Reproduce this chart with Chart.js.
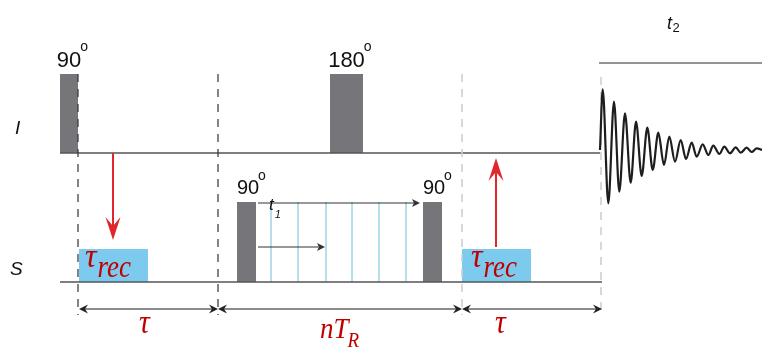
<!DOCTYPE html>
<html><head><meta charset="utf-8">
<script src="https://cdn.jsdelivr.net/npm/chart.js@4.4.0/dist/chart.umd.min.js"></script>
<style>html,body{margin:0;padding:0;background:#fff;overflow:hidden}#wrap{width:762px;height:348px;position:relative}</style>
</head><body><div id="wrap"><canvas id="c"></canvas></div>
<script>
// ---------------- data (time axis = x, row level = y) ----------------
const channelNames  = ['I', 'S'];
const channelLevels = [153, 282];
const channelStart  = [60, 60];
const channelEnd    = [600, 602];
const channelLabelX = [15, 10];
const channelLabelY = [134, 275];

const pulseChannel = [0, 0, 1, 1];
const pulseStart   = [60, 330, 237, 423];
const pulseEnd     = [78, 363, 256, 442];
const pulseTop     = [74, 74, 202, 202];
const pulseAngle   = ['90', '180', '90', '90'];

const boundaryTimes  = [78, 218, 462, 601];
const boundaryTop    = [74, 74, 74, 77];
const boundaryBottom = [315, 315, 315, 314];
const boundaryDark   = [true, true, false, false];

const periodStart   = [79, 218, 462];
const periodEnd     = [218, 462, 602];
const periodLevel   = 309;
const periodSymbol  = ['τ', 'nT', 'τ'];
const periodSub     = ['', 'R', ''];
const periodLabelX  = [139, 320, 495];
const periodLabelY  = [333, 338, 333];

const recStart  = [79, 462];
const recEnd    = [148, 531];
const recTop    = 249;
const recLabelX = [85, 471];

const transferX    = [113, 496];
const transferFrom = [153, 247];
const transferTo   = [240, 158];

const rotorSyncTimes = [271, 298, 326, 352, 379, 406];
const t1ArrowStart = [258, 258];
const t1ArrowEnd   = [420, 325];
const t1ArrowLevel = [203, 247];

const acqStart = 599, acqEnd = 762, acqLevel = 63;

const fidTimes  = [600, 602.7, 608.3, 614, 619.3, 625, 630.7, 636, 641.7, 647.3, 652.7, 658.3, 664, 669.3, 675, 680.7, 686, 691.7, 696.7, 702.7, 708.3, 713.3, 719.3, 724.3, 730, 735.7, 740.7, 746.7, 751.7, 756.7, 762];
const fidValues = [150, 89.3, 203.3, 101.7, 191.7, 113.3, 182.7, 121.7, 176, 127.7, 170, 132.7, 165, 136.7, 161.7, 140, 159, 142.7, 156.7, 144.3, 155, 145.7, 154, 146.7, 153.3, 147.3, 152.7, 147.7, 152, 148.3, 150];

// ---------------- styles ----------------
const C_LINE = '#555558', C_PULSE = '#76767a', C_BOX = '#7ccaee', C_SYNC = '#aadbe8';
const C_RED_ARROW = '#e2262b', C_RED_TEXT = '#c00000';

function pts(xs, ys) { return xs.map((x, i) => ({x, y: ys[i]})); }
function lineDs(data, color, width, extra) {
  return Object.assign({data, borderColor: color, borderWidth: width, fill: false, pointRadius: 0, tension: 0, order: 5}, extra || {});
}
const datasets = [];

// boxes and pulses (filled down to row level)
recStart.forEach((s, i) => datasets.push(lineDs(pts([s, recEnd[i]], [recTop, recTop]), 'rgba(0,0,0,0)', 0,
  {fill: {value: channelLevels[1]}, backgroundColor: C_BOX, order: 20})));
pulseStart.forEach((s, i) => datasets.push(lineDs(pts([s, pulseEnd[i]], [pulseTop[i], pulseTop[i]]), 'rgba(0,0,0,0)', 0,
  {fill: {value: channelLevels[pulseChannel[i]]}, backgroundColor: C_PULSE, order: 18})));
// rotor-sync lines
rotorSyncTimes.forEach(t => datasets.push(lineDs(pts([t, t], [pulseTop[2], channelLevels[1]]), C_SYNC, 1, {order: 19})));
// channel baselines
channelLevels.forEach((lv, i) => datasets.push(lineDs(pts([channelStart[i], channelEnd[i]], [lv, lv]), C_LINE, 1.5, {order: 10})));
// acquisition line
datasets.push(lineDs(pts([acqStart, acqEnd], [acqLevel, acqLevel]), '#707070', 1.5, {order: 10}));
// boundaries
boundaryTimes.forEach((t, i) => datasets.push(lineDs(pts([t, t], [boundaryTop[i], boundaryBottom[i]]),
  boundaryDark[i] ? '#333' : '#cfcfcf', boundaryDark[i] ? 1.2 : 1.6, {borderDash: [8, 7], order: 3})));
// period dimension lines
periodStart.forEach((s, i) => datasets.push(lineDs(pts([s + 4, periodEnd[i] - 4], [periodLevel, periodLevel]), '#666', 1.5, {order: 6})));
// transfer arrows (red)
transferX.forEach((x, i) => {
  const dir = transferTo[i] > transferFrom[i] ? -1 : 1;
  datasets.push(lineDs(pts([x, x], [transferFrom[i], transferTo[i] + dir * 12]), C_RED_ARROW, 2, {order: 4}));
});
// t1 arrows
t1ArrowStart.forEach((s, i) => datasets.push(lineDs(pts([s, t1ArrowEnd[i] - 4], [t1ArrowLevel[i], t1ArrowLevel[i]]), '#333', 1.2, {order: 4})));
// FID
datasets.push(lineDs(pts(fidTimes, fidValues), '#1e1e1e', 2.2, {cubicInterpolationMode: 'monotone', order: 2}));

// ---------------- text / arrowhead plugin ----------------
const decor = {
  id: 'decor',
  afterDatasetsDraw(chart) {
    const ctx = chart.ctx, X = chart.scales.x, Y = chart.scales.y;
    const px = v => X.getPixelForValue(v), py = v => Y.getPixelForValue(v);
    function head(tx, ty, dx, dy, len, hw, notch, color) {
      const x = px(tx), y = py(ty);
      const nx = -dy, ny = dx;
      ctx.beginPath();
      ctx.moveTo(x, y);
      ctx.lineTo(x - dx * len + nx * hw, y - dy * len + ny * hw);
      ctx.lineTo(x - dx * (len - notch), y - dy * (len - notch));
      ctx.lineTo(x - dx * len - nx * hw, y - dy * len - ny * hw);
      ctx.closePath();
      ctx.fillStyle = color; ctx.fill();
    }
    function txt(s, x, y, font, color, align, sy) {
      ctx.save();
      ctx.font = font; ctx.fillStyle = color; ctx.textAlign = align || 'left'; ctx.textBaseline = 'alphabetic';
      ctx.translate(px(x), py(y)); ctx.scale(1, sy || 1);
      ctx.fillText(s, 0, 0);
      const w = ctx.measureText(s).width;
      ctx.restore();
      return w;
    }
    // red arrowheads
    transferX.forEach((x, i) => head(x, transferTo[i], 0, transferTo[i] > transferFrom[i] ? 1 : -1, 23, 7.5, 9, C_RED_ARROW));
    // period arrowheads
    periodStart.forEach((s, i) => {
      head(s, periodLevel, -1, 0, 9, 4.5, 3, '#222');
      head(periodEnd[i], periodLevel, 1, 0, 9, 4.5, 3, '#222');
    });
    // t1 arrowheads
    t1ArrowEnd.forEach((e, i) => head(e, t1ArrowLevel[i], 1, 0, 8, 4, 2, '#333'));

    // pulse labels
    pulseAngle.forEach((a, i) => {
      const big = pulseChannel[i] === 0 ? 22 : 20;
      const cx = (pulseStart[i] + pulseEnd[i]) / 2 + (pulseChannel[i] === 0 ? 0 : 1.5);
      const by = pulseTop[i] - (pulseChannel[i] === 0 ? 7.5 : 8);
      const w = txt(a, cx, by, big + 'px "Liberation Sans", Arial, sans-serif', '#111', 'center');
      txt('o', cx + w / 2 - 1, by - big * 0.72, '14px "Liberation Sans", Arial, sans-serif', '#111', 'left');
    });
    // channel labels
    channelNames.forEach((n, i) => txt(n, channelLabelX[i], channelLabelY[i], 'italic 19px "Liberation Sans", Arial, sans-serif', '#111'));
    // t1 / t2
    let w = txt('t', 269, 210, 'italic 17px "Liberation Sans", Arial, sans-serif', '#111');
    txt('1', 269 + w + 1, 217.5, 'italic 11px "Liberation Sans", Arial, sans-serif', '#111');
    w = txt('t', 667, 29, 'italic 18px "Liberation Sans", Arial, sans-serif', '#111');
    txt('2', 667 + w + 0.5, 31.5, '13px "Liberation Sans", Arial, sans-serif', '#111');
    // recovery labels
    recLabelX.forEach(x => {
      const w1 = txt('τ', x, 266.5, 'italic 32px "Liberation Serif", serif', C_RED_TEXT, 'left', 1.05);
      txt('rec', x + w1 + 1, 276.5, 'italic 27px "Liberation Serif", serif', C_RED_TEXT, 'left', 1.2);
    });
    // period labels
    periodSymbol.forEach((s, i) => {
      const sz = s === 'τ' ? 30 : 27;
      const w1 = txt(s, periodLabelX[i], periodLabelY[i], 'italic ' + sz + 'px "Liberation Serif", serif', C_RED_TEXT, 'left', 1.1);
      if (periodSub[i]) txt(periodSub[i], periodLabelX[i] + w1 - 1, periodLabelY[i] + 8.5, 'italic 19px "Liberation Serif", serif', C_RED_TEXT, 'left', 1.05);
    });
  }
};

new Chart(document.getElementById('c'), {
  type: 'line',
  data: {datasets},
  options: {
    responsive: true, maintainAspectRatio: false, animation: false, events: [],
    layout: {padding: 0},
    plugins: {legend: {display: false}, tooltip: {enabled: false}},
    scales: {
      x: {type: 'linear', min: 0, max: 762, display: false},
      y: {type: 'linear', min: 0, max: 348, reverse: true, display: false}
    }
  },
  plugins: [decor]
});
</script></body></html>
